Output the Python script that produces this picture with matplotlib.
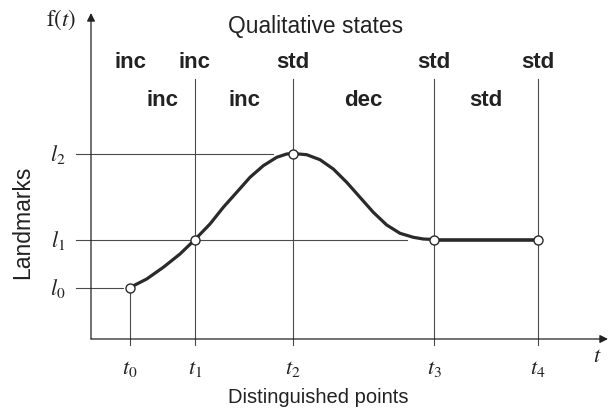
import matplotlib
matplotlib.use("Agg")
import matplotlib.pyplot as plt

plt.rcParams['font.family'] = ['Liberation Sans', 'DejaVu Sans']
plt.rcParams['mathtext.fontset'] = 'stix'

# distinguished time points and landmark values
t_names = [r'$t_0$', r'$t_1$', r'$t_2$', r'$t_3$', r'$t_4$']
t_pos = [3.9, 10.4, 20.2, 34.3, 44.7]
l_names = [r'$l_0$', r'$l_1$', r'$l_2$']
l_val = [5.15, 9.95, 18.55]

# f(t) at each distinguished point (index into landmarks)
point_landmark = [0, 1, 2, 1, 1]

# qualitative states: at points and on the intervals between them
states_at_points = ['inc', 'inc', 'std', 'std', 'std']
states_between = ['inc', 'inc', 'dec', 'std']

# the behaviour curve f(t), t0 .. t3
curve_t = [3.9, 5.57, 7.23, 8.9, 10.4, 11.9, 13.23, 14.57, 15.9, 17.23, 18.57,
           19.57, 20.2, 21.57, 22.9, 24.23, 25.57, 26.9, 28.23, 29.57, 30.9,
           32.23, 33.23, 34.3]
curve_f = [5.15, 6.0, 7.17, 8.5, 9.95, 11.5, 13.17, 14.67, 16.17, 17.33, 18.17,
           18.5, 18.55, 18.43, 17.93, 17.0, 15.67, 14.17, 12.67, 11.4, 10.57,
           10.17, 10.0, 9.95]
# where the landmark lines stop
l_line_end = [3.2, 31.6, 18.2]

ink = '#222222'
grid = '#4a4a4a'

fig = plt.figure(figsize=(6.1, 4.14), dpi=100)
ax = fig.add_axes([0, 0, 1, 1])
ax.set_xlim(-9.1, 51.9)
ax.set_ylim(-7.4, 34.0)
ax.axis('off')

# axes with arrows
ax.annotate('', xy=(0, 32.6), xytext=(0, 0),
            arrowprops=dict(arrowstyle='-|>', lw=0.9, color=ink, mutation_scale=12,
                            shrinkA=0, shrinkB=0))
ax.annotate('', xy=(51.7, 0), xytext=(0, 0),
            arrowprops=dict(arrowstyle='-|>', lw=0.9, color=ink, mutation_scale=12,
                            shrinkA=0, shrinkB=0))

# vertical lines at the distinguished points
for i, x in enumerate(t_pos):
    top = l_val[point_landmark[i]] if i == 0 else 26.0
    ax.plot([x, x], [-0.6, top], color=grid, lw=0.8, zorder=1)
    ax.text(x, -2.9, t_names[i], ha='center', va='center', fontsize=16, color=ink)

# landmark lines
for name, v, end in zip(l_names, l_val, l_line_end):
    ax.plot([-1.5, end], [v, v], color=grid, lw=0.8, zorder=1)
    ax.text(-3.3, v, name, ha='center', va='center', fontsize=16, color=ink)

# the curve, then the constant part to t4
ax.plot(curve_t, curve_f, color='#2a2a2a', lw=2.3, zorder=2,
        solid_capstyle='round', solid_joinstyle='round')
ax.plot([t_pos[3], t_pos[4]], [l_val[1], l_val[1]], color='#2a2a2a', lw=2.6, zorder=2)

px = t_pos
py = [l_val[k] for k in point_landmark]
ax.plot(px, py, 'o', ms=6.5, mfc='white', mec='#2a2a2a', mew=1.0, zorder=3)

# state labels
for x, s in zip(t_pos, states_at_points):
    ax.text(x, 27.7, s, ha='center', va='center', fontsize=16, fontweight='bold', color=ink)
for i, s in enumerate(states_between):
    mid = (t_pos[i] + t_pos[i + 1]) / 2
    ax.text(mid, 23.95, s, ha='center', va='center', fontsize=16, fontweight='bold', color=ink)

ax.text(22.5, 31.3, 'Qualitative states', ha='center', va='center', fontsize=16.4, color=ink)
ax.text(22.7, -5.8, 'Distinguished points', ha='center', va='center', fontsize=14.5, color=ink)
ax.text(-6.8, 11.8, 'Landmarks', ha='center', va='center', rotation=90, fontsize=16.5, color=ink)
ax.text(-3.0, 32.0, r'$\mathrm{f}(t)$', ha='center', va='center', fontsize=16.5, color=ink)
ax.text(50.6, -1.7, r'$t$', ha='center', va='center', fontsize=16, color=ink)

fig.savefig('out.png', dpi=100, facecolor='white')
